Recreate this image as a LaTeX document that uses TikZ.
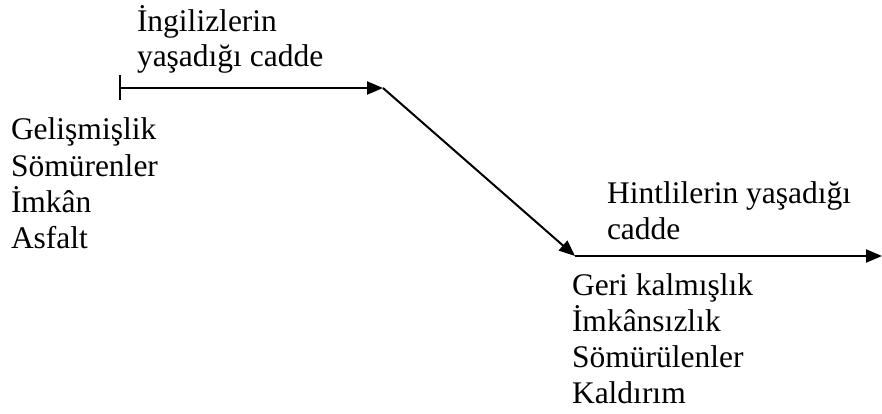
\documentclass[tikz,border=0pt]{standalone}
\usepackage{fontspec}
\setmainfont{Liberation Serif}
\usetikzlibrary{arrows.meta}
\tikzset{
  lbl/.style={inner sep=0pt, outer sep=0pt, anchor=base west, font=\fontsize{31.5}{36}\selectfont},
  tip/.tip={Triangle[length=16pt,width=13pt]},
  conn/.style={line width=2pt, -tip},
}
\begin{document}
\begin{tikzpicture}[x=1pt,y=-1pt]
\useasboundingbox (0,0) rectangle (882,414);
\coordinate (s) at (119,88);
\coordinate (a) at (383,88);
\coordinate (b) at (575,256);
\coordinate (e) at (882,256);
\draw[conn, {Bar[width=25pt,line width=2pt]}-tip] (s) -- (a);
\draw[conn] (a) -- (b);
\draw[conn] (b) -- (e);
\node[lbl] (t1a) at (137,32) {İngilizlerin};
\node[lbl] (t1b) at (137,67) {yaşadığı cadde};
\node[lbl] (t2a) at (11,140) {Gelişmişlik};
\node[lbl] (t2b) at (11,176) {Sömürenler};
\node[lbl] (t2c) at (11,212) {İmkân};
\node[lbl] (t2d) at (11,248) {Asfalt};
\node[lbl] (t3a) at (607,203) {Hintlilerin yaşadığı};
\node[lbl] (t3b) at (607,239) {cadde};
\node[lbl] (t4a) at (572,295) {Geri kalmışlık};
\node[lbl] (t4b) at (572,331) {İmkânsızlık};
\node[lbl] (t4c) at (572,367) {Sömürülenler};
\node[lbl] (t4d) at (572,403) {Kaldırım};
\end{tikzpicture}
\end{document}
